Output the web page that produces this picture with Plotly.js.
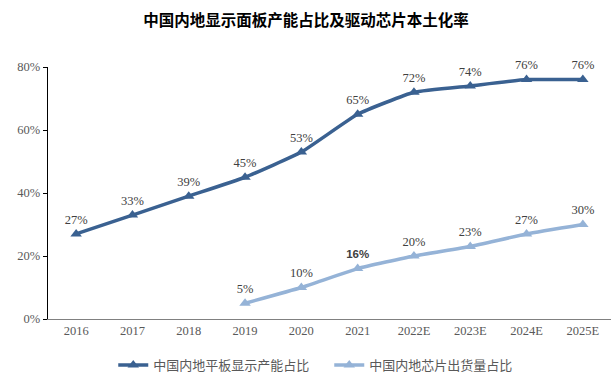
<!DOCTYPE html>
<html>
<head>
<meta charset="utf-8">
<script src="https://cdn.plot.ly/plotly-3.0.1.min.js"></script>
<style>html,body{margin:0;padding:0;background:#fff}#chart{width:612px;height:381px}</style>
</head>
<body>
<div id="chart"></div>
<script>
const categories = ["2016","2017","2018","2019","2020","2021","2022E","2023E","2024E","2025E"];
const panelShare = [27,33,39,45,53,65,72,74,76,76];
const chipShare = [null,null,null,5,10,16,20,23,27,30];
const yTicks = [0,20,40,60,80];
const yTickText = ["0%","20%","40%","60%","80%"];
const seriesNames = ["中国内地平板显示产能占比","中国内地芯片出货量占比"];

const serif = "Liberation Serif, Times New Roman, serif";
const labelFont = {family: serif, size: 12.5, color: "#404040"};

function mkLabels(vals){ return vals.map(v => v == null ? "" : v + "%"); }

const chipFonts = chipShare.map((v,i)=> categories[i]==="2021" ? "Liberation Sans, Arial, sans-serif" : serif);

const traces = [
  {
    x: categories, y: panelShare, name: seriesNames[0], type: "scatter", mode: "lines+markers+text",
    line: {color: "#3A6191", width: 3.5, shape: "spline", smoothing: 0.4},
    marker: {symbol: "triangle-up", size: 10, color: "#3A6191"},
    text: mkLabels(panelShare), textposition: "top center", textfont: labelFont,
    cliponaxis: false, hoverinfo: "skip"
  },
  {
    x: categories, y: chipShare, name: seriesNames[1], type: "scatter", mode: "lines+markers+text",
    line: {color: "#95B3D7", width: 3.5, shape: "spline", smoothing: 0.4},
    marker: {symbol: "triangle-up", size: 10, color: "#95B3D7"},
    text: chipShare.map((v,i)=> v==null ? "" : (categories[i]==="2021" ? "<b>"+v+"%</b>" : v+"%")),
    textposition: "top center",
    textfont: {family: chipFonts, size: chipShare.map((v,i)=>categories[i]==="2021"?11.5:12.5), color: "#404040"},
    cliponaxis: false, connectgaps: false, hoverinfo: "skip"
  }
];

const layout = {
  width: 612, height: 381,
  margin: {l: 48, r: 1, t: 67, b: 62},
  paper_bgcolor: "#fff", plot_bgcolor: "#fff",
  title: {text: "<b>中国内地显示面板产能占比及驱动芯片本土化率</b>", x: 0.5, xanchor: "center", y: 0.947, yanchor: "middle",
          font: {family: "Noto Sans CJK SC, sans-serif", size: 15.5, color: "#000"}},
  xaxis: {
    type: "category", range: [-0.5, 9.5], showgrid: false, zeroline: false,
    showline: true, linecolor: "#808080", linewidth: 1.3, ticks: "",
    tickfont: {family: serif, size: 12.5, color: "#595959"}, fixedrange: true
  },
  yaxis: {
    range: [0, 80], tickvals: yTicks, ticktext: yTickText, showgrid: false, zeroline: false,
    showline: true, linecolor: "#000", linewidth: 1.3, ticks: "outside", ticklen: 4, tickcolor: "#000",
    tickfont: {family: serif, size: 12.5, color: "#595959"}, fixedrange: true
  },
  legend: {orientation: "h", x: 0.538, xanchor: "center", xref: "container", y: 0.042, yanchor: "middle", yref: "container",
           font: {family: "Noto Sans CJK SC, sans-serif", size: 13, color: "#595959"}, itemwidth: 30,
           entrywidth: 171, entrywidthmode: "pixels", tracegroupgap: 0},
  showlegend: true
};

Plotly.newPlot("chart", traces, layout, {displayModeBar: false, staticPlot: true});
</script>
</body>
</html>
